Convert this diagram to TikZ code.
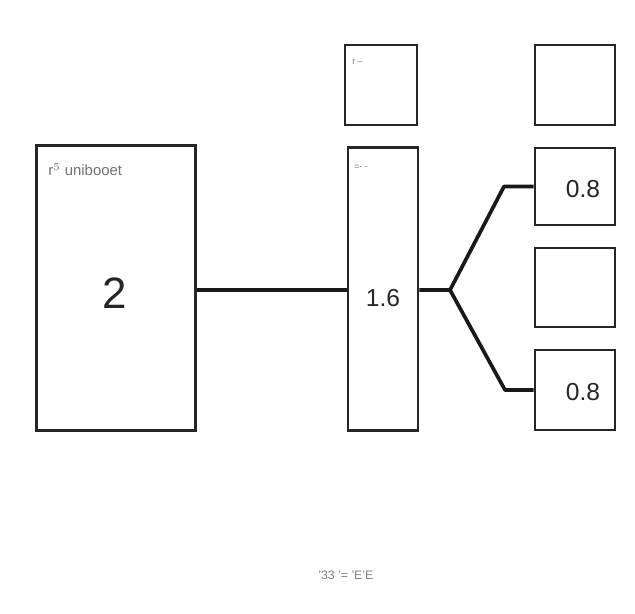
\documentclass[tikz,border=0pt]{standalone}
\usepackage{fontspec}
\setmainfont{Liberation Sans}
\begin{document}
\begin{tikzpicture}[x=0.02cm,y=-0.02cm,
  box/.style={draw=black!85,line width=1.5pt,rectangle,inner sep=0pt,fill=white},
  conn/.style={draw=black!90,line width=2.1pt,line join=round},
  val/.style={font=\fontsize{14}{14}\selectfont,text=black!85},
  tiny/.style={font=\fontsize{5}{5}\selectfont,text=black!55,inner sep=0pt}]
\useasboundingbox (0,0) rectangle (635,614);
\fill[white] (0,0) rectangle (635,614);
% boxes
\node[box,minimum width=159*0.02cm,minimum height=285*0.02cm] (big) at (116,288) {};
\node[box,minimum width=70*0.02cm,minimum height=283*0.02cm] (mid) at (383,289) {};
\node[box,minimum width=72*0.02cm,minimum height=80*0.02cm] (midtop) at (381,85) {};
\node[box,minimum width=80*0.02cm,minimum height=80*0.02cm] (r1) at (575,85) {};
\node[box,minimum width=80*0.02cm,minimum height=77*0.02cm] (r2) at (575,186.5) {};
\node[box,minimum width=80*0.02cm,minimum height=79*0.02cm] (r3) at (575,287.5) {};
\node[box,minimum width=80*0.02cm,minimum height=80*0.02cm] (r4) at (575,390) {};
% connectors
\coordinate (j) at (450,290);
\coordinate (e1) at (504,186.5);
\coordinate (e2) at (505,390);
\draw[conn] (big.east |- j) -- (mid.west |- j);
\draw[conn] (mid.east |- j) -- (j) -- (e1) -- (r2.west);
\draw[conn] (j) -- (e2) -- (r4.west);
% values
\node[font=\fontsize{25}{25}\selectfont,text=black!85] (v2) at (115,293) {2};
\node[val] (v16) at (383,298) {1.6};
\node[val] (v8a) at (583,189) {0.8};
\node[val] (v8b) at (583,392) {0.8};
% small labels
\node[tiny,anchor=west,font=\fontsize{8.5}{8.5}\selectfont] (lab) at (48,170) {r$^5$ unibooet};
\node[tiny,anchor=west] (m1) at (354,167) {=- -};
\node[tiny,anchor=west] (m2) at (352,62) {r –};
\node[tiny,anchor=west,font=\fontsize{7}{7}\selectfont,text=black!50] (bot) at (318,575) {'33 '= 'E'E};
\end{tikzpicture}
\end{document}
